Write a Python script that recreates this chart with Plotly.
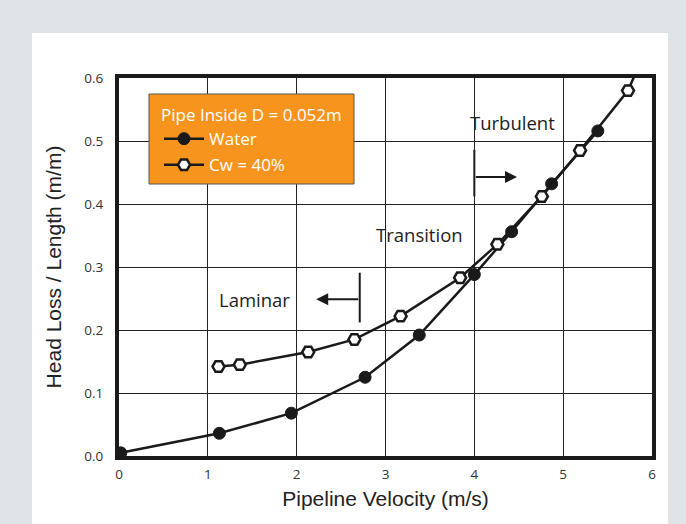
import plotly.graph_objects as go

# ---- data ----
water_velocity = [0.02, 1.13, 1.94, 2.77, 3.38, 4.0, 4.42, 4.87, 5.39]
water_headloss = [0.005, 0.036, 0.068, 0.125, 0.192, 0.288, 0.356, 0.432, 0.516]

cw_velocity = [1.12, 1.36, 2.13, 2.65, 3.17, 3.84, 4.26, 4.76, 5.19, 5.73, 5.86]
cw_headloss = [0.142, 0.145, 0.165, 0.185, 0.222, 0.283, 0.336, 0.412, 0.485, 0.580, 0.622]

x_ticks = [0, 1, 2, 3, 4, 5, 6]
y_ticks = [0.0, 0.1, 0.2, 0.3, 0.4, 0.5, 0.6]
y_tick_labels = ["0.0", "0.1", "0.2", "0.3", "0.4", "0.5", "0.6"]

legend_title = "Pipe Inside D = 0.052m"
series_names = ["Water", "Cw = 40%"]

# ---- figure ----
fig = go.Figure()

fig.add_trace(go.Scatter(
    x=water_velocity, y=water_headloss, mode="lines+markers", name=series_names[0],
    legendgroup="a",
    line=dict(color="#1a1a1a", width=2.5),
    marker=dict(symbol="circle", size=12, color="#1a1a1a", line=dict(color="#1a1a1a", width=1)),
))
fig.add_trace(go.Scatter(
    x=cw_velocity, y=cw_headloss, mode="lines+markers", name=series_names[1],
    legendgroup="b",
    line=dict(color="#1a1a1a", width=2.5),
    marker=dict(symbol="hexagon2", size=12, color="white", line=dict(color="#1a1a1a", width=2.5)),
))

W, H = 686, 524
L, R, T, B = 119, 34, 78, 68
pw, ph = W - L - R, H - T - B

def px_x(p):
    return (p - L) / pw

def px_y(p):
    return (H - B - p) / ph

shapes = [
    # white panel
    dict(type="rect", xref="paper", yref="paper", layer="below",
         x0=px_x(32), x1=px_x(668), y0=px_y(540), y1=px_y(33),
         fillcolor="white", line=dict(width=0)),
    # orange legend box
    dict(type="rect", xref="paper", yref="paper", layer="above",
         x0=px_x(149), x1=px_x(354), y0=px_y(184), y1=px_y(94),
         fillcolor="#F7941D", line=dict(color="#555555", width=1)),
    # laminar boundary
    dict(type="line", xref="x", yref="y", x0=2.71, x1=2.71, y0=0.212, y1=0.291,
         line=dict(color="#1a1a1a", width=2)),
    # turbulent boundary
    dict(type="line", xref="x", yref="y", x0=4.0, x1=4.0, y0=0.412, y1=0.486,
         line=dict(color="#1a1a1a", width=2)),
]

text_font = dict(family="Open Sans", size=18.5, color="#222222")
annotations = [
    dict(x=4.43, y=0.529, xref="x", yref="y", text="Turbulent", showarrow=False, font=text_font),
    dict(x=3.38, y=0.352, xref="x", yref="y", text="Transition", showarrow=False, font=text_font),
    dict(x=1.52, y=0.248, xref="x", yref="y", text="Laminar", showarrow=False, font=text_font),
    dict(x=2.22, y=0.249, ax=2.71, ay=0.249, xref="x", yref="y", axref="x", ayref="y",
         text="", showarrow=True, arrowhead=2, arrowsize=1.2, arrowwidth=2, arrowcolor="#1a1a1a"),
    dict(x=4.48, y=0.443, ax=4.0, ay=0.443, xref="x", yref="y", axref="x", ayref="y",
         text="", showarrow=True, arrowhead=2, arrowsize=1.2, arrowwidth=2, arrowcolor="#1a1a1a"),
]

axis_common = dict(
    showgrid=True, gridcolor="#222222", gridwidth=1.4,
    showline=True, linecolor="#1a1a1a", linewidth=4, mirror=True,
    zeroline=False, ticks="",
    tickfont=dict(family="Open Sans", size=13.5, color="#333333"),
    title_font=dict(family="Liberation Sans", size=21, color="#222222"),
)

fig.update_layout(
    width=W, height=H,
    margin=dict(l=L, r=R, t=T, b=B),
    paper_bgcolor="#dfe4e8",
    plot_bgcolor="white",
    shapes=shapes,
    annotations=annotations,
    showlegend=True,
    legend=dict(
        x=px_x(159), y=px_y(99), xanchor="left", yanchor="top",
        bgcolor="rgba(0,0,0,0)", borderwidth=0,
        font=dict(family="Open Sans", size=17, color="white"),
        title=dict(text=legend_title, font=dict(family="Open Sans", size=17, color="white")),
        tracegroupgap=1, itemwidth=40,
    ),
    xaxis=dict(range=[0, 6], tickvals=x_ticks, ticktext=[str(v) for v in x_ticks],
               ticklabelstandoff=3,
               title=dict(text="Pipeline Velocity (m/s)", standoff=10), **axis_common),
    yaxis=dict(range=[0, 0.6], tickvals=y_ticks, ticktext=y_tick_labels,
               ticklabelstandoff=9,
               title=dict(text="Head Loss / Length (m/m)", standoff=18), **axis_common),
)

fig.write_html(
    "out.html",
    config={"displayModeBar": False},
    post_script="document.body.style.margin='0';document.body.style.background='#dfe4e8';",
)
